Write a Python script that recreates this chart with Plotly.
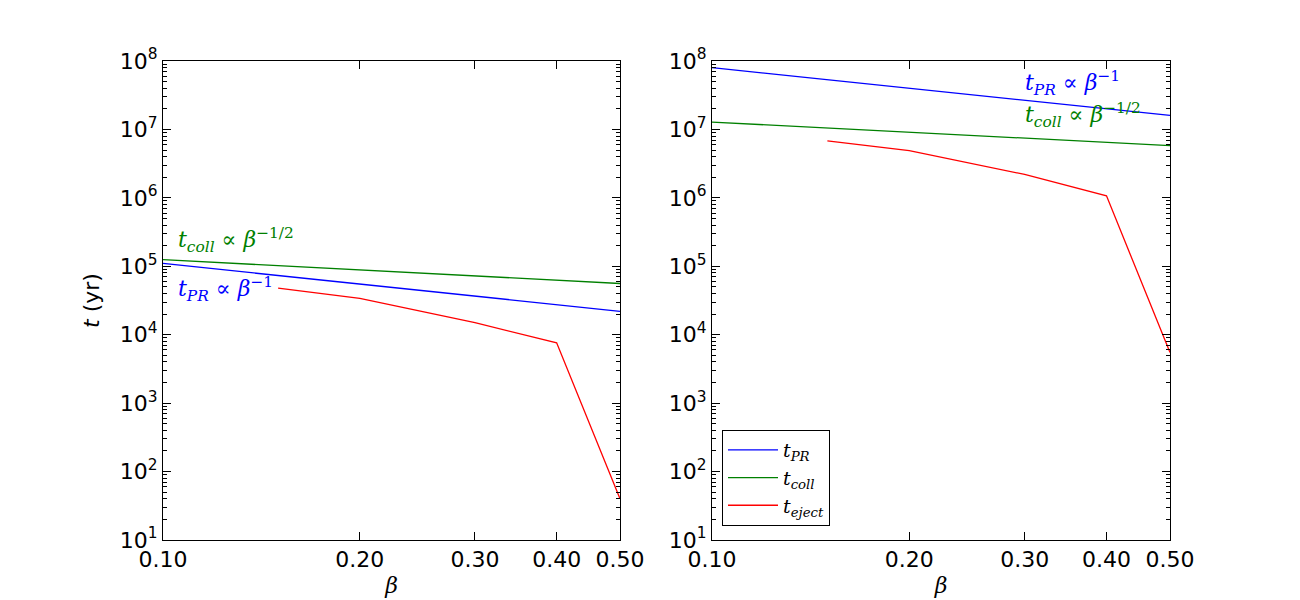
import math

import plotly.graph_objects as go
from plotly.subplots import make_subplots

# beta values shared by both panels
beta_line = [0.1, 0.5]
beta_eject = [0.15, 0.2, 0.3, 0.4, 0.5]

# left panel (yr)
left_pr = [1.1e5, 2.2e4]
left_coll = [1.25e5, 5.6e4]
left_eject = [4.8e4, 3.4e4, 1.5e4, 7.6e3, 40]

# right panel (yr)
right_pr = [8.0e7, 1.6e7]
right_coll = [1.28e7, 5.8e6]
right_eject = [6.8e6, 4.9e6, 2.2e6, 1.07e6, 5.5e3]

x_ticks = [0.1, 0.2, 0.3, 0.4, 0.5]
x_labels = ["0.10", "0.20", "0.30", "0.40", "0.50"]
y_ticks = [10 ** k for k in range(1, 9)]
y_labels = [f"10<sup>{k}</sup>" for k in range(1, 9)]

BLUE, GREEN, RED = "#0000ff", "#008000", "#ff0000"
MATH = "DejaVu Serif"
OFF = 8  # page body margin in the browser

fig = make_subplots(rows=1, cols=2)

names = ["<i>t<sub>PR</sub></i>", "<i>t<sub>coll</sub></i>", "<i>t<sub>eject</sub></i>"]
panels = [
    (1, left_pr, left_coll, left_eject, False),
    (2, right_pr, right_coll, right_eject, True),
]
for col, pr, coll, ej, legend in panels:
    for x, y, color, name in [
        (beta_line, pr, BLUE, names[0]),
        (beta_line, coll, GREEN, names[1]),
        (beta_eject, ej, RED, names[2]),
    ]:
        fig.add_trace(
            go.Scatter(x=x, y=y, mode="lines", name=name,
                       line={"color": color, "width": 1.3}, showlegend=legend),
            row=1, col=col,
        )

axis_common = dict(
    type="log",
    ticks="inside",
    ticklen=8,
    tickwidth=1,
    tickcolor="black",
    mirror="ticks",
    showline=True,
    linecolor="black",
    linewidth=1,
    showgrid=False,
    zeroline=False,
    automargin=False,
    tickfont={"family": "DejaVu Sans", "size": 22, "color": "black"},
    minor={"ticks": "inside", "ticklen": 4, "tickcolor": "black", "showgrid": False, "dtick": "D1"},
)

for col, (x0, x1) in [(1, (163, 620)), (2, (712, 1170))]:
    fig.update_xaxes(
        axis_common,
        domain=[(x0 - OFF) / 1300, (x1 - OFF) / 1300],
        range=[math.log10(0.1), math.log10(0.5)],
        tickvals=x_ticks,
        ticktext=x_labels,
        tickangle=0,
        title={"text": "<i>β</i>", "font": {"family": MATH, "size": 22, "color": "black"}, "standoff": 6},
        row=1, col=col,
    )
    fig.update_yaxes(
        axis_common,
        domain=[(600 - 540 + OFF) / 600, (600 - 61 + OFF) / 600],
        range=[1, 8],
        tickvals=y_ticks,
        ticktext=y_labels,
        row=1, col=col,
    )

fig.update_yaxes(
    title={"text": "<i>t</i> (yr)", "font": {"family": "DejaVu Sans", "size": 22, "color": "black"}, "standoff": 14},
    row=1, col=1,
)

labels = [
    ("x", "y", 0.1045, 2.4e5, "<i>t<sub>coll</sub></i> ∝ <i>β</i><sup>−1/2</sup>", GREEN),
    ("x", "y", 0.1045, 4.6e4, "<i>t<sub>PR</sub></i> ∝ <i>β</i><sup>−1</sup>", BLUE),
    ("x2", "y2", 0.298, 4.8e7, "<i>t<sub>PR</sub></i> ∝ <i>β</i><sup>−1</sup>", BLUE),
    ("x2", "y2", 0.298, 1.65e7, "<i>t<sub>coll</sub></i> ∝ <i>β</i><sup>−1/2</sup>", GREEN),
]
for xr, yr, x, y, text, color in labels:
    fig.add_annotation(
        xref=xr, yref=yr, x=math.log10(x), y=math.log10(y),
        text=text, showarrow=False, xanchor="left", yanchor="middle",
        font={"family": MATH, "size": 22, "color": color},
    )

fig.update_layout(
    width=1300,
    height=600,
    margin={"l": 0, "r": 0, "t": 0, "b": 0},
    paper_bgcolor="white",
    plot_bgcolor="white",
    legend={
        "x": (722 - OFF) / 1300, "y": (600 - 430 + OFF) / 600, "xanchor": "left", "yanchor": "top",
        "bordercolor": "black", "borderwidth": 1, "bgcolor": "white",
        "font": {"family": MATH, "size": 19, "color": "black"},
        "itemwidth": 50,
    },
)

fig.write_html("out.html")
